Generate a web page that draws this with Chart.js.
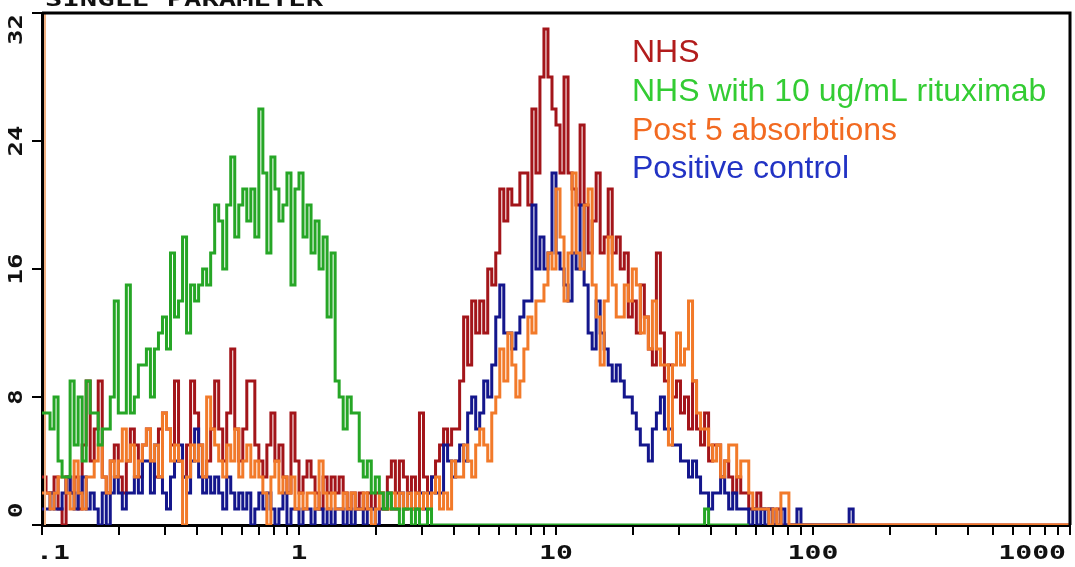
<!DOCTYPE html>
<html>
<head>
<meta charset="utf-8">
<script src="https://cdn.jsdelivr.net/npm/chart.js@4/dist/chart.umd.min.js"></script>
<style>
  html, body { margin: 0; padding: 0; background: #fff; }
  #wrap { width: 1075px; height: 567px; position: relative; }
</style>
</head>
<body>
<div id="wrap"><canvas id="hist"></canvas></div>
<script>
// Histogram counts, one value per 4-channel bin (1024 channels = 4 log decades)
const BIN = 4;

const nhsCounts = [
  3, 2, 2, 3, 1, 0, 3, 2, 3, 1, 5, 9, 4, 6, 9, 3, 2, 4, 5, 3,
  2, 4, 6, 5, 3, 5, 6, 4, 3, 6, 7, 6, 5, 9, 4, 3, 5, 9, 7, 5,
  3, 4, 6, 9, 6, 4, 7, 11, 6, 4, 6, 9, 9, 5, 4, 3, 5, 7, 4, 5,
  3, 2, 7, 4, 2, 3, 4, 3, 2, 1, 3, 2, 3, 2, 3, 2, 1, 2, 1, 2,
  1, 2, 1, 2, 2, 1, 3, 4, 2, 4, 3, 2, 3, 2, 7, 3, 2, 3, 4, 5,
  6, 5, 6, 6, 9, 13, 10, 14, 12, 14, 12, 16, 15, 17, 21, 19, 21, 20, 20, 22,
  22, 20, 26, 22, 28, 31, 28, 26, 25, 22, 28, 22, 21, 20, 25, 20, 17, 19, 22, 17,
  18, 21, 17, 18, 16, 17, 13, 14, 12, 15, 13, 11, 10, 17, 12, 9, 10, 8, 9, 7,
  8, 6, 9, 6, 5, 7, 4, 5, 5, 3, 4, 3, 2, 3, 2, 2, 1, 1, 2, 1,
  1, 1, 0, 1, 0, 0, 0, 0, 0, 0, 0, 0, 0, 0, 0, 0, 0, 0, 0, 0,
  0, 0, 0, 0, 0, 0, 0, 0, 0, 0, 0, 0, 0, 0, 0, 0, 0, 0, 0, 0,
  0, 0, 0, 0, 0, 0, 0, 0, 0, 0, 0, 0, 0, 0, 0, 0, 0, 0, 0, 0,
  0, 0, 0, 0, 0, 0, 0, 0, 0, 0, 0, 0, 0, 0, 0, 0,
];

const rituxCounts = [
  7, 7, 6, 8, 4, 3, 3, 9, 5, 8, 4, 9, 7, 7, 5, 6, 6, 8, 14, 7,
  7, 15, 7, 8, 10, 10, 11, 8, 11, 12, 13, 11, 17, 13, 14, 18, 12, 15, 14, 15,
  16, 15, 17, 20, 19, 16, 20, 23, 18, 20, 21, 19, 21, 18, 26, 22, 17, 23, 21, 19,
  20, 22, 15, 21, 22, 18, 20, 17, 19, 16, 18, 13, 17, 9, 8, 6, 8, 7, 7, 4,
  3, 4, 2, 3, 2, 1, 2, 1, 1, 0, 1, 1, 0, 1, 0, 0, 1, 0, 0, 0,
  0, 0, 0, 0, 0, 0, 0, 0, 0, 0, 0, 0, 0, 0, 0, 0, 0, 0, 0, 0,
  0, 0, 0, 0, 0, 0, 0, 0, 0, 0, 0, 0, 0, 0, 0, 0, 0, 0, 0, 0,
  0, 0, 0, 0, 0, 0, 0, 0, 0, 0, 0, 0, 0, 0, 0, 0, 0, 0, 0, 0,
  0, 0, 0, 0, 0, 1, 0, 0, 0, 0, 0, 0, 0, 0, 0, 0,
];

const postAbsCounts = [
  2, 2, 1, 2, 3, 3, 2, 1, 4, 2, 1, 3, 3, 4, 5, 3, 2, 4, 3, 4,
  6, 4, 5, 3, 4, 5, 6, 4, 5, 3, 7, 6, 4, 5, 4, 0, 3, 5, 4, 5,
  3, 8, 6, 5, 4, 3, 5, 4, 6, 3, 4, 5, 3, 4, 3, 2, 0, 3, 4, 2,
  3, 2, 3, 1, 2, 1, 2, 2, 1, 4, 2, 1, 2, 1, 1, 2, 1, 2, 1, 1,
  2, 1, 0, 1, 2, 1, 1, 2, 1, 2, 1, 2, 1, 2, 1, 2, 1, 2, 3, 1,
  2, 1, 4, 3, 3, 5, 4, 3, 5, 6, 5, 4, 7, 8, 11, 9, 12, 10, 8, 9,
  11, 13, 12, 14, 14, 15, 17, 16, 21, 18, 14, 17, 22, 17, 16, 20, 21, 15, 13, 10,
  14, 18, 15, 13, 13, 15, 14, 16, 15, 12, 13, 11, 14, 11, 10, 10, 5, 10, 12, 10,
  11, 14, 9, 7, 6, 6, 5, 4, 5, 3, 4, 5, 5, 3, 4, 4, 2, 1, 1, 1,
  1, 0, 1, 0, 2, 2, 0, 0, 0, 0, 0, 0, 0, 0, 0, 0, 0, 0, 0, 0,
  0, 0, 0, 0, 0, 0, 0, 0, 0, 0, 0, 0, 0, 0, 0, 0, 0, 0, 0, 0,
  0, 0, 0, 0, 0, 0, 0, 0, 0, 0, 0, 0, 0, 0, 0, 0, 0, 0, 0, 0,
  0, 0, 0, 0, 0, 0, 0, 0, 0, 0, 0, 0, 0, 0, 0, 0,
];
// off-scale events piled up in the first channel of the post-absorption run
const postAbsFirstChannel = [3, 40];

const positiveCounts = [
  1, 1, 2, 1, 1, 2, 3, 2, 1, 2, 3, 1, 2, 1, 0, 2, 0, 2, 3, 2,
  1, 2, 2, 3, 2, 4, 4, 2, 5, 3, 2, 1, 3, 4, 5, 3, 2, 4, 6, 3,
  2, 3, 2, 3, 2, 1, 3, 2, 1, 2, 1, 2, 0, 1, 2, 1, 2, 1, 0, 1,
  2, 0, 1, 1, 0, 1, 1, 0, 1, 1, 0, 1, 0, 1, 1, 0, 1, 0, 1, 1,
  0, 1, 1, 0, 1, 1, 2, 1, 1, 2, 1, 2, 1, 1, 2, 1, 2, 3, 2, 2,
  5, 4, 3, 4, 5, 4, 7, 8, 6, 7, 9, 8, 10, 13, 15, 12, 12, 11, 12, 13,
  14, 14, 20, 16, 18, 16, 17, 22, 17, 16, 15, 14, 17, 16, 20, 15, 12, 11, 14, 12,
  11, 10, 9, 10, 9, 8, 8, 7, 6, 5, 5, 4, 6, 7, 8, 6, 6, 5, 5, 4,
  4, 3, 4, 3, 2, 2, 1, 2, 2, 3, 2, 1, 2, 1, 1, 1, 0, 1, 0, 1,
  0, 1, 0, 0, 1, 0, 0, 0, 1, 0, 0, 0, 0, 0, 0, 0, 0, 0, 0, 0,
  0, 1, 0,
];

const seriesNames = ['NHS', 'NHS with 10 ug/mL rituximab', 'Post 5 absorbtions', 'Positive control'];
const lineColors = ['#a3151a', '#26a626', '#f27a2a', '#14168c'];
const legendColors = ['#b21c1c', '#33cc33', '#f26a21', '#2233c4'];

const yTicks = [0, 8, 16, 24, 32];
const decadeValues = [0.1, 1, 10, 100, 1000];
const decadeLabels = ['.1', '1', '10', '100', '1000'];
const minorSteps = [2, 3, 4, 5, 6, 7, 8, 9];
const CHANNELS_PER_DECADE = 256;

const toChannel = v => CHANNELS_PER_DECADE * Math.log10(v / decadeValues[0]);

function toPoints(counts) {
  const pts = counts.map((c, i) => ({ x: i * BIN, y: c }));
  pts.push({ x: counts.length * BIN, y: counts[counts.length - 1] });
  return pts;
}

const MONO = 'bold 19px "DejaVu Sans Mono"';

function stretchedText(ctx, text, cx, cy, sx, lo, hi) {
  ctx.font = MONO;
  const w = ctx.measureText(text).width * sx;
  let left = cx - w / 2;
  if (lo != null && left < lo) left = lo;
  if (hi != null && left + w > hi) left = hi - w;
  ctx.save();
  ctx.translate(left, cy);
  ctx.scale(sx, 1);
  ctx.textAlign = 'left';
  ctx.textBaseline = 'middle';
  ctx.fillText(text, 0, 0);
  ctx.restore();
}

const decorations = {
  id: 'decorations',
  afterDraw(chart) {
    const { ctx, chartArea: a, scales } = chart;
    ctx.save();
    ctx.fillStyle = '#111';

    // top / right frame
    ctx.strokeStyle = '#000';
    ctx.lineWidth = 3;
    ctx.beginPath();
    ctx.moveTo(a.left, a.top);
    ctx.lineTo(a.right, a.top);
    ctx.lineTo(a.right, a.bottom);
    ctx.stroke();

    // x labels (decades only)
    decadeValues.forEach((v, i) => {
      const px = scales.x.getPixelForValue(toChannel(v));
      stretchedText(ctx, decadeLabels[i], px, 554, 1.48, 36, 1066);
    });

    // y labels, rotated
    yTicks.forEach(v => {
      const py = scales.y.getPixelForValue(v);
      ctx.save();
      ctx.translate(17, 0);
      ctx.rotate(-Math.PI / 2);
      // after rotation the x axis runs upward: clamp within [-518, -14]
      stretchedText(ctx, String(v), -py, 0, 1.35, -518, -14);
      ctx.restore();
    });

    // cut-off title at the very top
    ctx.save();
    ctx.font = MONO;
    ctx.translate(45, 6);
    ctx.scale(1.52, 1);
    ctx.textBaseline = 'alphabetic';
    ctx.fillText('SINGLE PARAMETER', 0, 0);
    ctx.restore();

    // legend as coloured text
    ctx.font = '32px "Liberation Sans", Arial, sans-serif';
    ctx.textAlign = 'left';
    ctx.textBaseline = 'alphabetic';
    const baselines = [62, 101, 140, 178];
    seriesNames.forEach((name, i) => {
      ctx.fillStyle = legendColors[i];
      ctx.fillText(name, 632, baselines[i]);
    });
    ctx.restore();
  },
};

const lineStyle = color => ({
  borderColor: color,
  backgroundColor: 'transparent',
  borderWidth: 3,
  pointRadius: 0,
  stepped: true,
  fill: false,
  tension: 0,
});

new Chart(document.getElementById('hist'), {
  type: 'line',
  data: {
    datasets: [
      { label: seriesNames[0], data: toPoints(nhsCounts), ...lineStyle(lineColors[0]), order: 5 },
      { label: seriesNames[3], data: toPoints(positiveCounts), ...lineStyle(lineColors[3]), order: 4 },
      { label: seriesNames[2], data: toPoints(postAbsCounts), ...lineStyle(lineColors[2]), order: 3 },
      {
        label: 'off-scale',
        data: [{ x: postAbsFirstChannel[0], y: 0 }, { x: postAbsFirstChannel[0], y: postAbsFirstChannel[1] }],
        ...lineStyle('#f0b183'), stepped: false, borderWidth: 2, order: 2,
      },
      { label: seriesNames[1], data: toPoints(rituxCounts), ...lineStyle(lineColors[1]), order: 1 },
    ],
  },
  options: {
    responsive: true,
    maintainAspectRatio: false,
    animation: false,
    layout: { padding: { top: 13, right: 5, left: 0, bottom: 0 } },
    plugins: {
      legend: { display: false },
      tooltip: { enabled: false },
      title: { display: false },
    },
    scales: {
      x: {
        type: 'linear',
        min: 0,
        max: CHANNELS_PER_DECADE * 4,
        afterBuildTicks(scale) {
          const ticks = [];
          decadeValues.forEach((d, i) => {
            ticks.push({ value: toChannel(d) });
            if (i < decadeValues.length - 1) {
              minorSteps.forEach(k => ticks.push({ value: toChannel(d * k) }));
            }
          });
          scale.ticks = ticks;
        },
        afterFit(scale) { scale.height = 42; },
        ticks: { display: false },
        grid: { drawOnChartArea: false, drawTicks: true, tickLength: 10, color: '#000', lineWidth: 2 },
        border: { display: true, color: '#000', width: 3 },
      },
      y: {
        type: 'linear',
        min: 0,
        max: 32,
        afterBuildTicks(scale) { scale.ticks = yTicks.map(v => ({ value: v })); },
        afterFit(scale) { scale.width = 42; },
        ticks: { display: false },
        grid: { drawOnChartArea: false, drawTicks: true, tickLength: 10, color: '#000', lineWidth: 2 },
        border: { display: true, color: '#000', width: 3 },
      },
    },
  },
  plugins: [decorations],
});
</script>
</body>
</html>
